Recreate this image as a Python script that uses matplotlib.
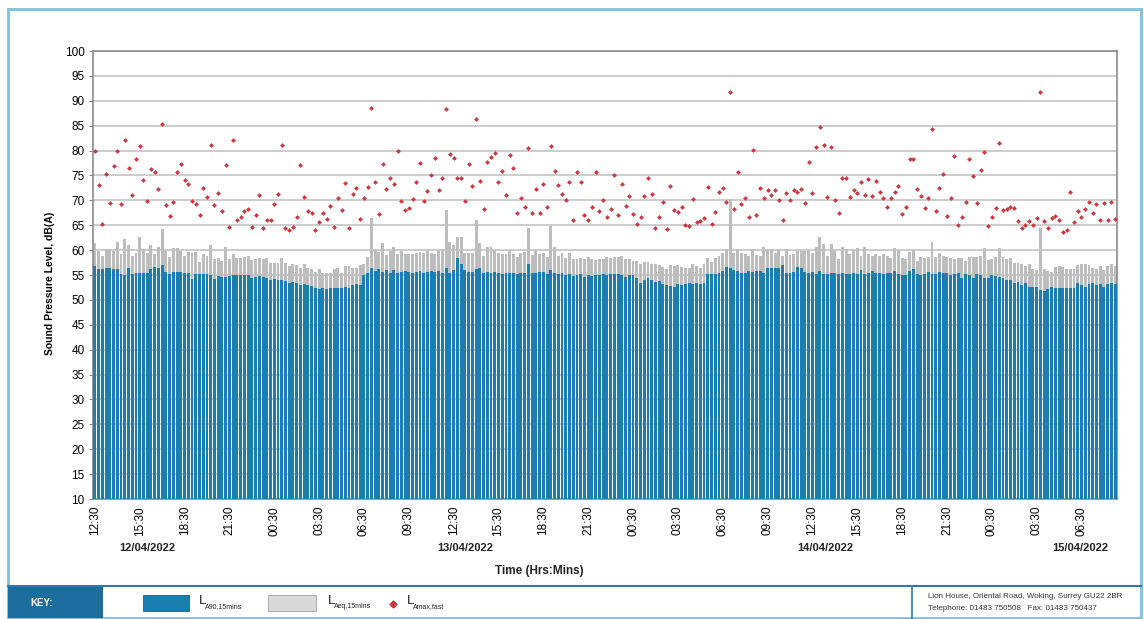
import matplotlib
matplotlib.use('Agg')
import matplotlib.pyplot as plt
from matplotlib.patches import Rectangle
from matplotlib.lines import Line2D
import numpy as np

# ---------------- data (15-minute periods from 12/04/2022 12:30) ----------------
la90 = [
    56.9, 56.3, 56.2, 56.5, 56.5, 56.2, 56.3, 55.2, 55.0, 56.5, 55.2, 55.5, 55.5, 55.5, 55.4, 56.2,
    56.7, 56.4, 57.0, 55.7, 55.3, 55.7, 55.7, 55.7, 55.4, 55.5, 54.2, 55.2, 55.2, 55.3, 55.2, 55.0,
    54.2, 54.7, 54.5, 54.5, 54.7, 54.9, 55.0, 55.0, 55.0, 54.9, 54.4, 54.5, 54.7, 54.5, 54.4,
    54.0, 54.2, 53.9, 54.0, 53.7, 53.4, 53.5, 53.3, 53.0, 53.2, 53.0, 52.7, 52.4, 52.2, 52.3, 52.2,
    52.3, 52.4, 52.3, 52.3, 52.5, 52.4, 53.0, 53.2, 53.0,
    55.0, 55.5, 56.5, 55.8, 56.2, 55.6, 56.0, 55.4, 56.0, 55.5, 55.7, 55.9, 55.7, 55.5, 55.6, 55.8,
    55.5, 55.7, 55.8, 55.6,
    55.9, 55.5, 56.5, 55.5, 56.0, 58.4, 57.3, 56.0, 55.6, 55.6, 56.3, 56.5, 55.5, 55.7, 55.5, 55.6,
    55.4, 55.3, 55.5, 55.4, 55.5, 55.3, 55.4, 55.5, 57.3, 55.5, 55.4, 55.6, 55.6, 55.3, 56.0, 55.4,
    55.3, 55.4, 55.0, 55.2, 54.7, 55.0, 55.2, 54.5, 55.0, 54.8, 54.9, 55.0, 55.2,
    55.1, 55.2, 55.2, 55.2, 54.9, 54.5, 55.0, 54.9, 54.4, 53.3, 54.0, 54.4, 53.9, 53.5, 53.7, 53.2,
    52.9, 52.7, 52.5, 53.1, 52.9, 53.2, 53.3, 53.2, 53.3, 53.2, 53.3, 55.2, 55.3, 55.3, 55.5, 55.9,
    56.7, 56.4, 56.0, 55.9, 55.5, 55.4, 55.9, 55.7, 55.9, 55.9, 55.5, 56.4, 56.4, 56.5,
    56.5, 57.1, 55.5, 55.5, 55.7, 56.7, 56.5, 55.7, 55.4, 55.7, 55.3, 55.9, 55.3, 55.3, 55.4, 55.4,
    55.3, 55.4, 55.3, 55.2, 55.4, 55.3, 56.0, 55.2, 55.5, 55.9, 55.5, 55.4, 55.3, 55.4, 55.5, 55.9,
    55.2, 54.9, 54.9, 55.9, 56.2, 55.3, 54.9, 55.3, 55.7, 55.3, 55.2, 55.7, 55.4,
    55.4, 54.9, 55.2, 55.5, 54.4, 55.2, 55.0, 54.4, 55.2, 54.9, 54.4, 54.4, 54.9, 54.7, 54.5, 54.4,
    54.0, 53.9, 53.3, 53.5, 52.9, 53.3, 52.5, 52.5, 52.5, 51.9, 51.7, 52.2, 52.5, 52.4, 52.4, 52.4,
    52.4, 52.3, 52.4, 53.3, 52.9, 52.5, 53.1, 53.3, 52.9, 53.2, 52.5, 53.2, 53.3, 53.2,
]

laeq = [
    61.5, 59.9, 58.9, 60.2, 60.2, 59.9, 61.7, 59.3, 62.2, 61.0, 58.9, 59.4, 62.7, 60.2, 59.4, 61.1,
    59.2, 60.7, 64.3, 59.9, 58.7, 60.5, 60.5, 59.9, 58.9, 59.7, 59.5, 59.7, 57.7, 59.2, 58.9, 61.1,
    58.2, 58.5, 57.9, 60.7, 58.2, 59.2, 58.5, 58.4, 58.7, 58.9, 58.1, 58.2, 58.4, 58.3, 58.4,
    57.5, 57.5, 57.5, 58.4, 57.5, 56.9, 57.2, 57.0, 56.5, 57.3, 56.5, 56.2, 55.7, 56.2, 55.5, 55.4,
    55.4, 56.3, 56.5, 55.4, 56.9, 56.9, 56.5, 56.5, 57.0, 57.3, 58.7, 66.5, 60.2, 59.7, 61.5, 59.0,
    59.9, 60.7, 59.2, 59.9, 59.2, 59.2, 59.3, 59.5, 59.7, 59.4, 59.9, 59.5, 59.2,
    60.0, 60.2, 68.1, 61.7, 61.0, 62.7, 62.7, 59.4, 59.4, 59.4, 66.1, 61.5, 58.9, 60.7, 60.7, 60.1,
    59.5, 59.2, 59.3, 60.1, 59.2, 58.7, 59.4, 59.7, 64.5, 59.0, 60.0, 59.2, 59.4, 58.7, 64.9, 60.7,
    58.9, 59.4, 58.4, 59.4, 58.2, 58.2, 58.5, 58.2, 58.7, 58.2, 58.0, 58.2, 58.3,
    58.7, 58.5, 58.7, 58.7, 58.9, 58.3, 58.2, 57.9, 57.9, 57.2, 57.7, 57.7, 57.3, 57.3, 57.0, 56.7,
    56.2, 57.0, 56.9, 57.0, 56.7, 56.4, 56.5, 57.3, 56.9, 56.4, 57.3, 58.4, 57.7, 58.4, 58.9, 59.5,
    60.2, 70.2, 59.5, 60.2, 59.4, 59.2, 58.9, 60.2, 59.0, 58.9, 60.7, 60.3, 60.2, 59.4,
    60.2, 58.9, 60.3, 59.0, 59.2, 59.9, 59.9, 59.9, 60.1, 59.4, 60.7, 62.7, 61.2, 58.9, 61.3, 59.9,
    58.2, 60.7, 60.2, 59.3, 60.0, 60.4, 58.9, 60.7, 59.3, 58.9, 59.3, 58.9, 59.2, 58.9, 58.5, 60.4,
    60.1, 58.5, 58.3, 59.7, 60.0, 57.9, 58.7, 58.5, 58.7, 61.7, 58.7, 59.5, 58.9,
    58.7, 58.5, 58.2, 58.5, 58.4, 57.9, 58.7, 58.7, 58.7, 58.9, 60.5, 58.0, 58.2, 58.7, 60.4, 58.7,
    58.2, 58.5, 57.5, 57.5, 57.2, 56.9, 57.2, 56.2, 56.0, 64.5, 56.2, 55.9, 55.7, 56.7, 56.9, 56.7,
    56.2, 56.2, 56.2, 57.1, 57.2, 57.2, 57.0, 56.4, 56.3, 56.9, 56.0, 56.9, 57.3, 56.9,
]

lamax = [
    79.9, 73.1, 65.3, 75.3, 69.5, 76.8, 80.0, 69.2, 82.2, 76.5, 71.1, 78.3, 80.9, 74.0, 69.9, 76.2,
    75.7, 72.3, 85.3, 69.1, 66.9, 69.6, 75.7, 77.3, 74.1, 73.2, 69.9, 69.3, 67.1, 72.4, 70.7, 81.1,
    69.0, 71.5, 67.9, 77.0, 64.7, 82.2, 66.1, 66.7, 67.9, 68.3, 64.7, 67.1, 71.1, 64.5, 66.0,
    66.1, 69.2, 71.3, 81.1, 64.4, 64.1, 64.7, 66.7, 77.0, 70.7, 67.9, 67.5, 64.1, 65.6, 67.5, 66.3,
    68.8, 64.7, 70.4, 68.1, 73.5, 64.4, 71.2, 72.5, 66.3, 70.5, 72.7, 88.6, 73.7, 67.3, 77.2, 72.3,
    74.4, 73.3, 79.9, 69.9, 68.1, 68.5, 70.2, 73.7, 77.5, 69.9, 71.9, 75.1, 78.5,
    72.0, 74.5, 88.4, 79.3, 78.6, 74.5, 74.4, 69.9, 77.2, 72.8, 86.3, 73.8, 68.3, 77.7, 78.7, 79.5,
    73.7, 75.8, 71.0, 79.2, 76.4, 67.5, 70.4, 68.7, 80.5, 67.5, 72.2, 67.5, 73.2, 68.6, 81.0, 75.9,
    73.0, 71.3, 70.0, 73.7, 66.0, 75.7, 73.7, 67.0, 66.0, 68.7, 75.7, 67.8, 70.0,
    66.7, 68.3, 75.1, 67.1, 73.2, 68.9, 70.9, 67.2, 65.2, 66.7, 70.9, 74.4, 71.2, 64.4, 66.7, 69.6,
    64.3, 72.8, 68.1, 67.7, 68.6, 65.1, 64.9, 70.3, 65.7, 65.8, 66.5, 72.7, 65.2, 67.7, 71.6, 72.4,
    69.7, 91.7, 68.3, 75.6, 69.2, 70.4, 66.7, 80.2, 67.1, 72.5, 70.5, 72.0, 71.1, 72.0,
    70.1, 66.1, 71.5, 70.1, 72.0, 71.7, 72.3, 69.5, 77.7, 71.4, 80.7, 84.7, 81.2, 70.7, 80.7, 70.1,
    67.5, 74.5, 74.5, 70.7, 72.1, 71.5, 73.7, 71.1, 74.3, 70.9, 73.8, 71.6, 70.4, 68.7, 70.4, 71.7,
    72.9, 67.2, 68.7, 78.4, 78.4, 72.2, 70.8, 68.4, 70.5, 84.4, 67.9, 72.4, 75.3,
    66.9, 70.4, 78.9, 65.1, 66.7, 69.7, 78.3, 74.9, 69.5, 76.0, 79.7, 64.8, 66.7, 68.4, 81.5, 68.1,
    68.2, 68.7, 68.4, 65.9, 64.5, 65.0, 65.9, 65.1, 66.4, 91.7, 65.9, 64.5, 66.4, 66.9, 66.1, 63.7,
    64.1, 71.6, 65.6, 67.9, 66.7, 68.3, 69.7, 67.5, 69.3, 66.1, 69.5, 66.1, 69.6, 66.3,
]

tick_labels = ["12:30", "15:30", "18:30", "21:30", "00:30", "03:30", "06:30", "09:30",
               "12:30", "15:30", "18:30", "21:30", "00:30", "03:30", "06:30", "09:30",
               "12:30", "15:30", "18:30", "21:30", "00:30", "03:30", "06:30"]
tick_step = 12  # one label every 12 periods (3 hours)
date_labels = ["12/04/2022", "13/04/2022", "14/04/2022", "15/04/2022"]
date_label_px = [147, 465, 825, 1080]

# ---------------- figure ----------------
plt.rcParams['font.family'] = ['Liberation Sans', 'DejaVu Sans']

W, H = 1144, 619
fig = plt.figure(figsize=(W / 100, H / 100), dpi=100)
fig.patch.set_facecolor('white')


def fx(px):
    return px / W


def fy(py):
    return 1 - py / H


BLUE = '#1a7fb0'
GREY = '#bdbdbd'
RED = '#d2343c'

ax = fig.add_axes([fx(93), fy(499), fx(1117) - fx(93), fy(51) - fy(499)])
x = np.arange(len(la90))
ax.bar(x, laeq, width=0.78, color=GREY, zorder=2, linewidth=0)
ax.bar(x, la90, width=0.78, color=BLUE, zorder=3, linewidth=0)
ax.scatter(x, lamax, marker='D', s=6, color=RED, zorder=4, linewidths=0)

ax.set_xlim(-0.5, len(la90) - 0.5)
ax.set_ylim(10, 100)
ax.set_yticks(range(10, 101, 5))
ax.grid(axis='y', color='#c4c4c4', lw=1.2, zorder=1)
ax.set_axisbelow(True)
ax.set_xticks(np.arange(len(tick_labels)) * tick_step)
ax.set_xticklabels(tick_labels, rotation=90, fontsize=8.5)
ax.tick_params(axis='y', labelsize=8.5, length=3, color='#888888', pad=3)
ax.tick_params(axis='x', length=0, pad=5)
for s in ax.spines.values():
    s.set_color('#8c8c8c')
    s.set_linewidth(1.2)

fig.text(fx(50), fy(283), 'Sound Pressure Level, dB(A)', rotation=90, ha='center', va='center',
         fontsize=7.5, fontweight='bold', family=['Liberation Sans Narrow', 'Liberation Sans'])
fig.text(fx(539), fy(571), 'Time (Hrs:Mins)', ha='center', va='center', fontsize=8.5,
         fontweight='bold', color='#222222')
for lab, px in zip(date_labels, date_label_px):
    fig.text(fx(px), fy(548), lab, ha='center', va='center', fontsize=8, fontweight='bold',
             color='#222222')

# ---------------- frame and key strip ----------------
fig.patches.append(Rectangle((fx(8), fy(618)), fx(1141) - fx(8), fy(9) - fy(618),
                             transform=fig.transFigure, fill=False, edgecolor='#7fc0e0', lw=2))
fig.lines.append(Line2D([fx(8), fx(1141)], [fy(586), fy(586)], transform=fig.transFigure,
                        color='#2f78a8', lw=1.5))
fig.patches.append(Rectangle((fx(8), fy(618)), fx(103) - fx(8), fy(587) - fy(618),
                             transform=fig.transFigure, facecolor='#1c6d9e', edgecolor='none'))
fig.text(fx(42), fy(603), 'KEY:', color='white', fontsize=7, fontweight='bold',
         ha='center', va='center')

legend_items = [
    (143, 189, BLUE, '#16628a', 'rect', 'A90,15mins', 199),
    (268, 316, '#d9d9d9', '#a0a0a0', 'rect', 'Aeq,15mins', 328),
    (393, 393, RED, RED, 'marker', 'Amax,fast', 407),
]
for x0, x1, fc, ec, kind, sub, tx in legend_items:
    if kind == 'rect':
        fig.patches.append(Rectangle((fx(x0), fy(611)), fx(x1) - fx(x0), fy(595) - fy(611),
                                     transform=fig.transFigure, facecolor=fc, edgecolor=ec, lw=0.6))
    else:
        fig.lines.append(Line2D([fx(x0)], [fy(604)], transform=fig.transFigure, marker='D',
                                ms=3.5, color=fc, lw=0))
    fig.text(fx(tx), fy(601), 'L', fontsize=9.5, va='center', ha='left', color='#222222')
    fig.text(fx(tx + 6), fy(607), sub, fontsize=5, va='center', ha='left', color='#222222')

fig.lines.append(Line2D([fx(912), fx(912)], [fy(586), fy(618)], transform=fig.transFigure,
                        color='#2f78a8', lw=1.2))
fig.text(fx(928), fy(597), 'Lion House, Oriental Road, Woking, Surrey GU22 2BR', fontsize=5.8,
         va='center', ha='left', color='#333333')
fig.text(fx(928), fy(609), 'Telephone: 01483 750508   Fax: 01483 750437', fontsize=5.8,
         va='center', ha='left', color='#333333')

fig.savefig('out.png', dpi=100, facecolor='white')
